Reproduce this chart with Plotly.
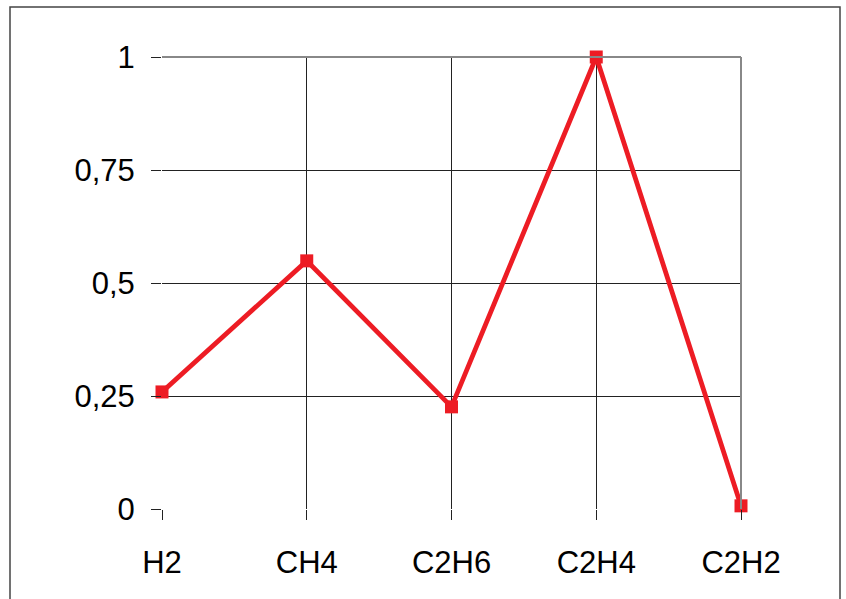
import plotly.graph_objects as go

categories = ["H2", "CH4", "C2H6", "C2H4", "C2H2"]
values = [0.259, 0.549, 0.226, 1.0, 0.007]
y_ticks = [0, 0.25, 0.5, 0.75, 1]
y_tick_labels = ["0", "0,25", "0,5", "0,75", "1"]

fig = go.Figure()
fig.add_trace(go.Scatter(
    x=list(range(len(categories))), y=values, mode="lines+markers",
    line=dict(color="#ed1c24", width=4.8),
    marker=dict(symbol="square", size=13, color="#ed1c24"),
    cliponaxis=False, showlegend=False,
))

W, H = 846, 599
L, R, T, B = 162, 741, 57, 509
pw, ph = R - L, B - T

fig.update_layout(
    width=W, height=H,
    margin=dict(l=L, r=W - R, t=T, b=H - B, pad=0),
    paper_bgcolor="white", plot_bgcolor="white",
    font=dict(family="Liberation Sans, Arial, sans-serif", size=31, color="black"),
    xaxis=dict(
        range=[0, 4], tickvals=list(range(len(categories))), ticktext=categories,
        showgrid=True, gridcolor="#222222", gridwidth=1,
        ticks="outside", ticklen=10, tickcolor="#222222", tickwidth=1,
        zeroline=False, showline=False, ticklabelstandoff=16,
    ),
    yaxis=dict(
        range=[0, 1], tickvals=y_ticks, ticktext=y_tick_labels,
        showgrid=True, gridcolor="#222222", gridwidth=1,
        ticks="outside", ticklen=10, tickcolor="#222222", tickwidth=1,
        zeroline=False, showline=False, ticklabelstandoff=10,
    ),
    shapes=[
        dict(type="rect", xref="paper", yref="paper",
             x0=(10 - L) / pw, x1=(840 - L) / pw,
             y0=(B - 640) / ph, y1=(B - 7) / ph,
             line=dict(color="#444444", width=1.5), layer="below"),
        dict(type="line", xref="paper", yref="paper",
             x0=1, x1=1, y0=0, y1=1,
             line=dict(color="#888888", width=2)),
        dict(type="line", xref="paper", yref="paper",
             x0=0, x1=1, y0=1, y1=1,
             line=dict(color="#888888", width=2)),
    ],
)

fig.write_html(
    "out.html",
    config={"displayModeBar": False},
    post_script="document.body.style.margin='0';document.body.style.overflow='hidden';",
)
